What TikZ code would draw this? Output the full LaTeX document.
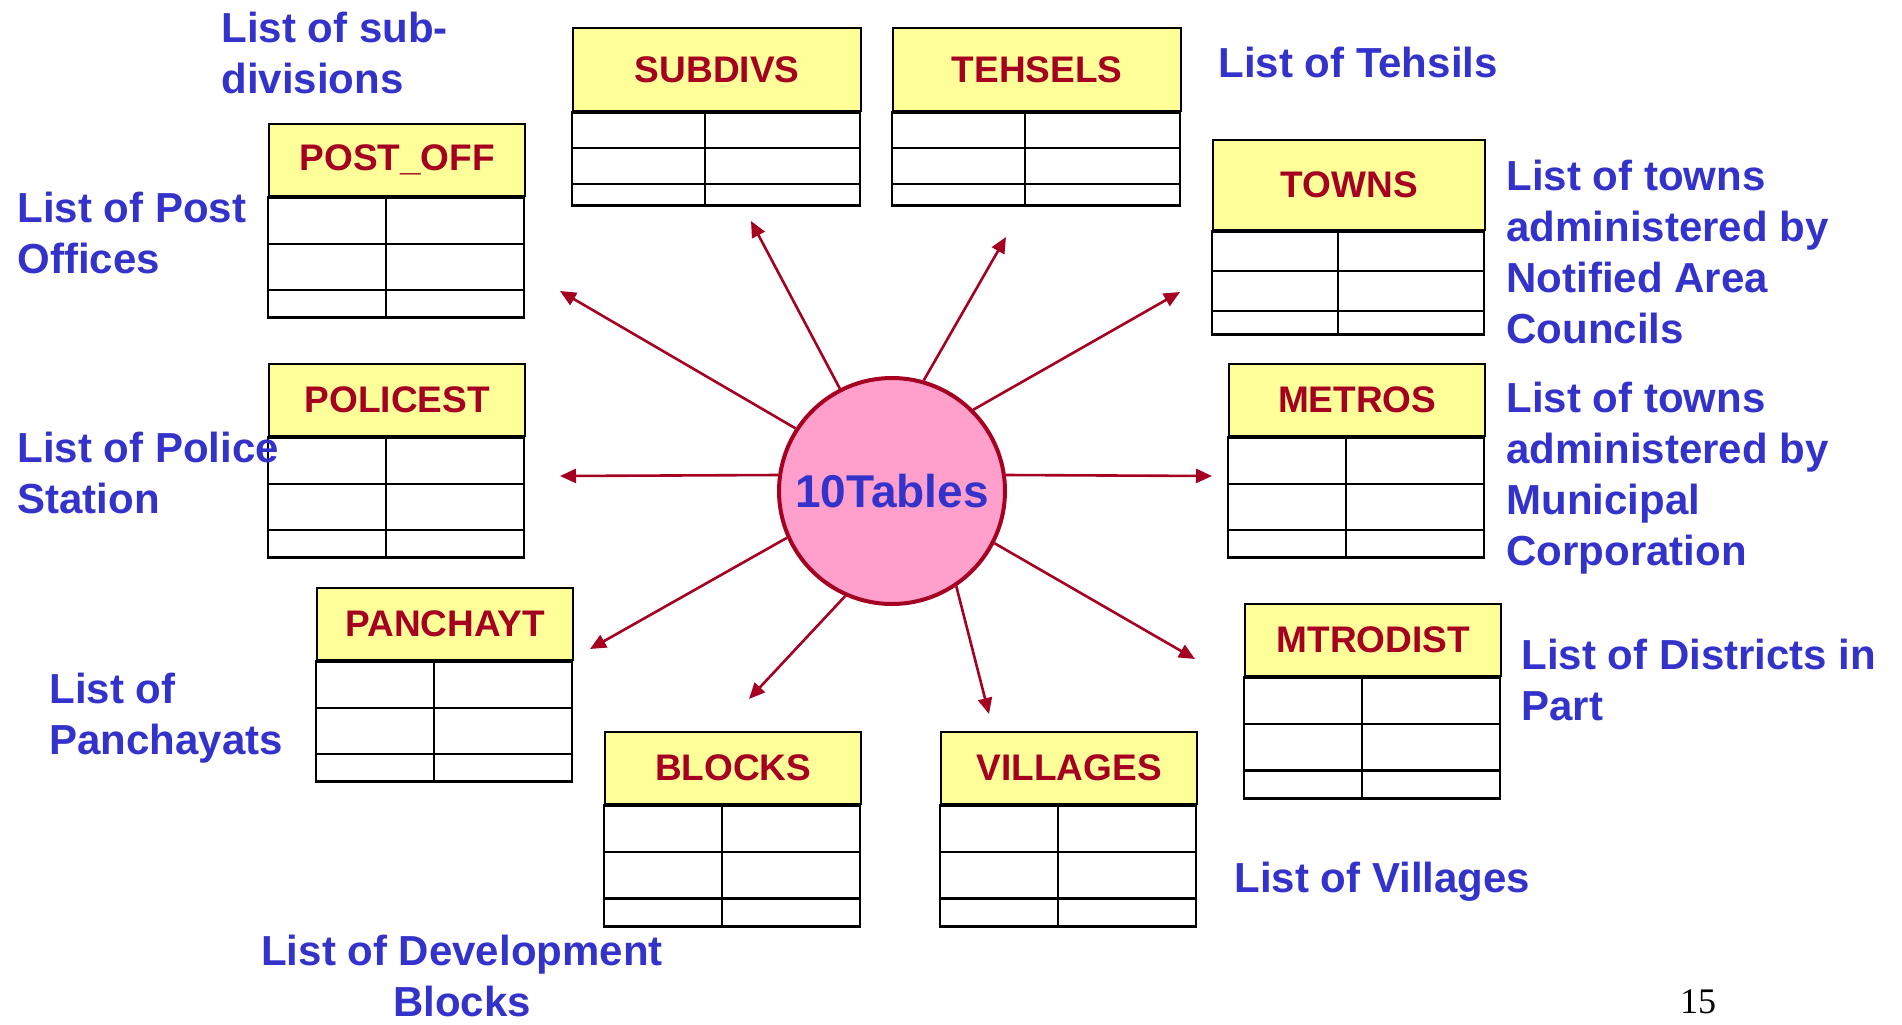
\documentclass[tikz,border=0pt]{standalone}
\usepackage{fontspec}
\setmainfont{Liberation Sans}
\newfontfamily\pagenumfont{Liberation Serif}
\usetikzlibrary{arrows.meta}

\definecolor{tblred}{HTML}{A50021}
\definecolor{tblyellow}{HTML}{FFFF99}
\definecolor{lblblue}{HTML}{3333CC}
\definecolor{hubpink}{HTML}{FF9FCC}

\tikzset{
  tblhead/.style={draw, line width=1.2pt, fill=tblyellow, text=tblred, anchor=north west,
    inner sep=0pt, font=\bfseries\fontsize{18.5}{20}\selectfont},
  tblline/.style={line width=1.1pt},
  hub/.style={circle, draw=tblred, line width=2pt, fill=hubpink, minimum size=113pt,
    inner sep=0pt, text=lblblue, font=\bfseries\fontsize{23}{26}\selectfont},
  link/.style={draw=tblred, line width=1.3pt, -{Triangle[length=8pt,width=7pt]}},
  lbl/.style={text=lblblue, font=\bfseries\fontsize{21}{25.5}\selectfont, align=left,
    inner sep=0pt, anchor=base west}
}

% table: name, left, top, width, header height, full height, title
\newcommand{\dbtable}[7]{%
  \node[tblhead, minimum width=#4*0.5pt, minimum height=#5*0.5pt] (#1) at (#2,#3) {#7};
  \pgfmathsetmacro\bodyh{#6-#5}
  \begin{scope}[shift={(#1.south west)}]
    \draw[tblline] (0,0) rectangle (#4,\bodyh);
    \draw[tblline] (0,{0.385*\bodyh}) -- (#4,{0.385*\bodyh});
    \draw[tblline] (0,{0.77*\bodyh}) -- (#4,{0.77*\bodyh});
    \draw[tblline] ({0.462*#4},0) -- ({0.462*#4},\bodyh);
  \end{scope}
}

\begin{document}
\begin{tikzpicture}[x=0.5pt, y=-0.5pt]
  \useasboundingbox (0,0) rectangle (1902,1024);

  % Tables
  \dbtable{subdivs}{572}{27}{288}{83}{176}{SUBDIVS}
  \dbtable{tehsels}{892}{27}{288}{83}{176}{TEHSELS}
  \dbtable{postoff}{268}{123}{256}{72}{192}{POST\_OFF}
  \dbtable{policest}{268}{363}{256}{72}{192}{POLICEST}
  \dbtable{panchayt}{316}{587}{256}{72}{192}{PANCHAYT}
  \dbtable{blocks}{604}{731}{256}{72}{193}{BLOCKS}
  \dbtable{villages}{940}{731}{256}{72}{193}{VILLAGES}
  \dbtable{towns}{1212}{139}{272}{90}{193}{TOWNS}
  \dbtable{metros}{1228}{363}{256}{72}{192}{METROS}
  \dbtable{mtrodist}{1244}{603}{256}{72}{193}{MTRODIST}

  % Centre
  \node[hub] (hub) at (892,491) {10Tables};

  % Arrow ends
  \coordinate (tip-postoff) at (560,291);
  \coordinate (tip-subdivs) at (751,221);
  \coordinate (tip-tehsels) at (1006,237);
  \coordinate (tip-towns) at (1180,292);
  \coordinate (tip-metros) at (1212,476);
  \coordinate (tip-policest) at (560,476);
  \coordinate (tip-mtrodist) at (1195,659);
  \coordinate (tip-villages) at (989,714);
  \coordinate (tip-blocks) at (749,699);
  \coordinate (tip-panchayt) at (590,649);

  \foreach \ang/\tip in {147/postoff, 117/subdivs, 74/tehsels, 45/towns, 8/metros,
      172/policest, -27/mtrodist, -56/villages, -114/blocks, -156/panchayt}
    \draw[link] (hub.\ang) -- (tip-\tip);

  % Labels (multi-line ones sit on their last baseline)
  \node[lbl] (l-subdivs) at (221,93) {List of sub-\\divisions};
  \node[lbl] (l-tehsels) at (1218,77) {List of Tehsils};
  \node[lbl] (l-postoff) at (17,273) {List of Post\\Offices};
  \node[lbl] (l-policest) at (17,513) {List of Police\\Station};
  \node[lbl] (l-panchayt) at (49,754) {List of\\Panchayats};
  \node[lbl, align=center, anchor=base] (l-blocks) at (462,1016) {List of Development\\Blocks};
  \node[lbl] (l-towns) at (1506,343) {List of towns\\administered by\\Notified Area\\Councils};
  \node[lbl] (l-metros) at (1506,565) {List of towns\\administered by\\Municipal\\Corporation};
  \node[lbl] (l-mtrodist) at (1521,720) {List of Districts in\\Part};
  \node[lbl] (l-villages) at (1234,892) {List of Villages};

  \node[anchor=base, inner sep=0pt, font=\pagenumfont\fontsize{18}{20}\selectfont] (pagenum) at (1698,1013) {15};
\end{tikzpicture}
\end{document}
